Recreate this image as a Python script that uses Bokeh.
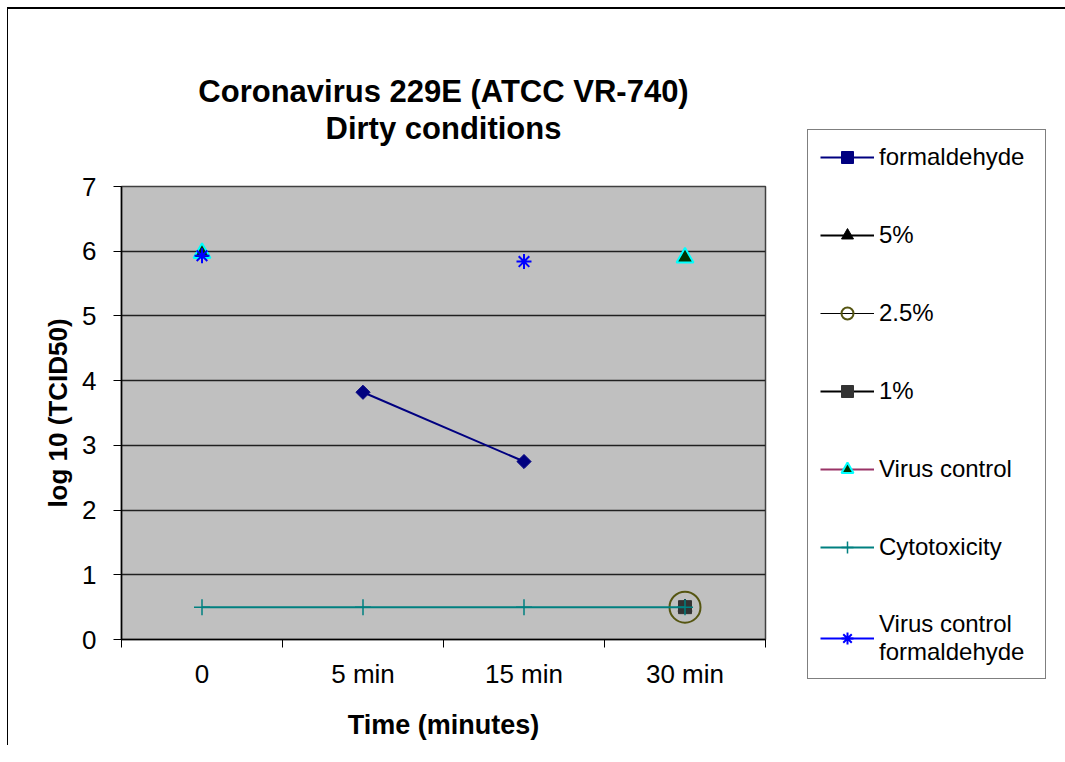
import numpy as np
from bokeh.plotting import figure
from bokeh.models import (FixedTicker, Legend, LegendItem, Range1d, Title)
from bokeh.embed import file_html
from bokeh.resources import INLINE

nan = np.nan
categories = ["0", "5 min", "15 min", "30 min"]
formaldehyde = [nan, 3.82, 2.75, nan]
pct5 = [nan, nan, nan, 0.5]
pct2_5 = [nan, nan, nan, 0.5]
pct1 = [nan, nan, nan, 0.5]
virus_control = [5.97, nan, nan, 5.90]
cytotoxicity = [0.5, 0.5, 0.5, 0.5]
virus_control_form = [5.93, nan, 5.84, nan]
y_ticks = [0, 1, 2, 3, 4, 5, 6, 7]

xs = [i + 0.5 for i in range(len(categories))]
FONT = "Liberation Sans"

p = figure(frame_width=644, frame_height=453, output_backend="svg", toolbar_location=None,
           x_range=Range1d(0, len(categories)), y_range=Range1d(0, 7),
           min_border_left=113, min_border_right=292, min_border_top=177,
           min_border_bottom=106)
p.styles = {"border-top": "2px solid black", "border-left": "1px solid black",
            "margin-left": "7px", "margin-top": "7px"}

p.background_fill_color = "#C0C0C0"
p.border_fill_color = "white"
p.outline_line_color = "#404040"
p.outline_line_width = 1.5

t2 = Title(text="Dirty conditions", align="center", text_font=FONT,
           text_font_size="31px", text_font_style="bold", text_color="black",
           standoff=82)
t1 = Title(text="Coronavirus 229E (ATCC VR-740)", align="center", text_font=FONT,
           text_font_size="31px", text_font_style="bold", text_color="black",
           standoff=-82)
p.add_layout(t2, "above")
p.add_layout(t1, "above")

# x axis
xa = p.xaxis[0]
xa.ticker = FixedTicker(ticks=xs, minor_ticks=list(range(len(categories) + 1)))
xa.major_label_overrides = {x: c for x, c in zip(xs, categories)}
xa.major_tick_out = 0
xa.major_tick_in = 0
xa.minor_tick_out = 8
xa.minor_tick_in = 0
xa.minor_tick_line_color = "black"
xa.axis_line_color = "black"
xa.axis_line_width = 1.5
xa.major_label_text_font = FONT
xa.major_label_text_font_size = "26px"
xa.major_label_text_color = "black"
xa.major_label_standoff = 11
xa.axis_label = "Time (minutes)"
xa.axis_label_text_font = FONT
xa.axis_label_text_font_size = "27px"
xa.axis_label_text_font_style = "bold"
xa.axis_label_text_color = "black"
xa.axis_label_standoff = 18

# y axis
ya = p.yaxis[0]
ya.ticker = FixedTicker(ticks=y_ticks, minor_ticks=[])
ya.major_tick_out = 8
ya.major_tick_in = 0
ya.major_tick_line_color = "black"
ya.axis_line_color = "black"
ya.axis_line_width = 1.5
ya.major_label_text_font = FONT
ya.major_label_text_font_size = "26px"
ya.major_label_text_color = "black"
ya.major_label_standoff = 17
ya.axis_label = "log 10 (TCID50)"
ya.axis_label_text_font = FONT
ya.axis_label_text_font_size = "26px"
ya.axis_label_text_font_style = "bold"
ya.axis_label_text_color = "black"
ya.axis_label_standoff = 6

p.xgrid.visible = False
p.ygrid.ticker = FixedTicker(ticks=y_ticks)
p.ygrid.grid_line_color = "#202020"
p.ygrid.grid_line_width = 1.5

items = []

# formaldehyde
l1 = p.line(xs, formaldehyde, line_color="#000080", line_width=2)
s1 = p.scatter(xs, formaldehyde, marker="square", angle=np.pi / 4, size=10,
               fill_color="#000080", line_color="#000080")
items.append(LegendItem(label="formaldehyde", renderers=[l1, s1]))

# 5%
l2 = p.line(xs, pct5, line_color="black", line_width=2)
s2 = p.scatter(xs, pct5, marker="triangle", size=14, fill_color="black",
               line_color="black")
items.append(LegendItem(label="5%", renderers=[l2, s2]))

# 2.5%
l3 = p.line(xs, pct2_5, line_color="black", line_width=1)
s3 = p.scatter(xs, pct2_5, marker="circle", size=31, fill_color=None,
               line_color="#555511", line_width=2)
items.append(LegendItem(label="2.5%", renderers=[l3, s3]))

# 1%
l4 = p.line(xs, pct1, line_color="black", line_width=2)
s4 = p.scatter(xs, pct1, marker="square", size=13, fill_color="#333333",
               line_color="#333333")
items.append(LegendItem(label="1%", renderers=[l4, s4]))

# Virus control
l5 = p.line(xs, virus_control, line_color="#993366", line_width=2)
s5 = p.scatter(xs, virus_control, marker="triangle", size=17, fill_color="#003300",
               line_color="#00FFFF", line_width=2)
items.append(LegendItem(label="Virus control", renderers=[l5, s5]))

# Cytotoxicity
l6 = p.line(xs, cytotoxicity, line_color="#008080", line_width=2)
s6 = p.scatter(xs, cytotoxicity, marker="cross", size=16, line_color="#008080",
               line_width=1.5)
items.append(LegendItem(label="Cytotoxicity", renderers=[l6, s6]))

# Virus control formaldehyde
l7 = p.line(xs, virus_control_form, line_color="#0000FF", line_width=2)
s7 = p.scatter(xs, virus_control_form, marker="asterisk", size=15, line_color="#0000FF",
               line_width=2)
items.append(LegendItem(label="Virus control\nformaldehyde", renderers=[l7, s7]))

legend = Legend(items=items, location=(42, -40))
legend.label_text_font = FONT
legend.label_text_font_size = "24px"
legend.label_text_color = "black"
legend.glyph_width = 54
legend.glyph_height = 30
legend.label_height = 24
legend.label_width = 154
legend.label_standoff = 5
legend.spacing = 48
legend.padding = 12
legend.margin = 0
legend.border_line_color = "black"
legend.border_line_width = 1
legend.background_fill_color = "white"
legend.background_fill_alpha = 1
p.add_layout(legend, "right")

open("out.html", "w").write(file_html(p, INLINE))
